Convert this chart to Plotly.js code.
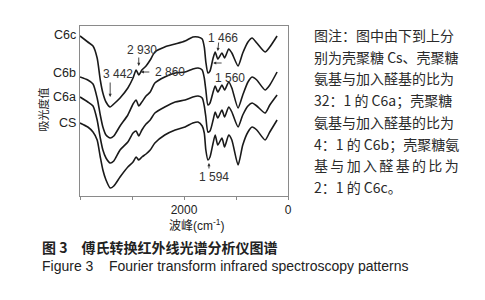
<!DOCTYPE html>
<html>
<head>
<meta charset="utf-8">
<script src="https://cdn.plot.ly/plotly-3.0.1.min.js"></script>
<style>html,body{margin:0;padding:0;background:#fff;}#chart{width:485px;height:300px;}</style>
</head>
<body>
<div id="chart"></div>
<script>
// Wavenumber (cm-1) sample points
const wavenumber = [4000,3850,3750,3670,3610,3560,3500,3420,3350,3230,3080,2980,2920,2870,2810,2730,2650,2560,2370,2170,1980,1830,1730,1650,1610,1580,1540,1500,1440,1400,1350,1270,1220,1140,1080,960,870,770,690,600,440,350,210];
// Relative absorbance (offset spectra, arbitrary units)
const absC6c = [1.60,1.54,1.50,1.38,1.16,1.03,0.94,0.89,0.92,0.98,1.08,1.18,1.26,1.21,1.26,1.30,1.36,1.44,1.49,1.52,1.55,1.59,1.59,1.57,1.49,1.34,1.23,1.25,1.38,1.44,1.37,1.43,1.38,1.47,1.43,1.30,1.43,1.54,1.58,1.53,1.44,1.49,1.60];
const absC6b = [1.19,1.16,1.12,0.98,0.81,0.69,0.61,0.58,0.60,0.70,0.81,0.92,0.96,0.90,0.94,1.00,1.04,1.13,1.19,1.23,1.24,1.27,1.28,1.26,1.18,1.06,0.91,0.93,1.04,1.10,1.04,1.11,1.06,1.14,1.08,0.88,1.01,1.14,1.19,1.16,1.06,1.11,1.24];
const absC6a = [0.99,0.94,0.90,0.76,0.58,0.46,0.38,0.33,0.35,0.46,0.54,0.63,0.65,0.60,0.66,0.72,0.76,0.83,0.89,0.94,0.96,0.99,1.00,0.98,0.90,0.79,0.64,0.65,0.76,0.84,0.78,0.86,0.79,0.89,0.84,0.69,0.81,0.90,0.93,0.90,0.83,0.91,1.01];
const absCS  = [0.73,0.69,0.64,0.56,0.39,0.26,0.16,0.08,0.10,0.19,0.29,0.34,0.39,0.36,0.39,0.42,0.46,0.53,0.61,0.66,0.69,0.73,0.74,0.70,0.63,0.46,0.36,0.39,0.53,0.61,0.51,0.58,0.49,0.61,0.56,0.31,0.51,0.64,0.69,0.66,0.56,0.64,0.76];
const seriesNames = ['C6c','C6b','C6a','CS'];
const tickVals = [4000,3000,2000,1000,0];
const tickText = ['','','2000','','0'];
const peakLabels = ['3 442','2 930','2 860','1 466','1 560','1 594'];
const noteLines = ['图注：图中由下到上分','别为壳聚糖 Cs、壳聚糖','氨基与加入醛基的比为','32：1 的 C6a；壳聚糖','氨基与加入醛基的比为','4：1 的 C6b；壳聚糖氨','基\u2006与\u2006加\u2006入\u2006醛\u2006基\u2006的\u2006比\u2006为','2：1 的 C6c。'];
const captionCN = '图 3　傅氏转换红外线光谱分析仪图谱';
const captionEN = 'Figure 3    Fourier transform infrared spectroscopy patterns';
const yTitle = '吸光度值';
const xTitle = '波峰(cm<sup>-1</sup>)';

const FONT = 'Liberation Sans, Arial, Noto Sans CJK SC, sans-serif';
const CJK = 'Noto Sans CJK SC, Liberation Sans, sans-serif';
const allY = [absC6c, absC6b, absC6a, absCS];
const traces = allY.map((y, i) => ({
  x: wavenumber, y: y, type: 'scatter', mode: 'lines', name: seriesNames[i],
  line: {color: '#1a1a1a', width: 1.6, shape: 'spline', smoothing: 0.6},
  hoverinfo: 'skip'
}));

const ann = [];
// curve labels at left end
const labelShift = [1, 4, 0, 0];
allY.forEach((y, i) => {
  ann.push({xref:'paper', yref:'y', x:-0.01, y:y[0], yshift:labelShift[i], text:seriesNames[i], showarrow:false,
    xanchor:'right', yanchor:'middle', font:{family:FONT, size:12.5, color:'#222'}});
});
// peak labels
const pk = {size:12, family:FONT, color:'#333'};
const arr = {showarrow:true, arrowhead:2, arrowsize:0.7, arrowwidth:0.9, arrowcolor:'#333'};
ann.push(Object.assign({x:3420, y:0.99, text:'', ax:0, ay:-16}, arr));
ann.push({x:3270, y:1.22, text:peakLabels[0], showarrow:false, font:pk});
ann.push(Object.assign({x:2870, y:1.30, text:'', ax:0, ay:-10}, arr));
ann.push({x:2810, y:1.46, text:peakLabels[1], showarrow:false, font:pk});
ann.push(Object.assign({x:2830, y:1.24, text:'', ax:10, ay:0}, arr));
ann.push({x:2600, y:1.24, text:peakLabels[2], showarrow:false, xanchor:'left', font:pk});
ann.push(Object.assign({x:1350, y:1.45, text:'', ax:1, ay:-10}, arr));
ann.push({x:1250, y:1.58, text:peakLabels[3], showarrow:false, font:pk});
ann.push(Object.assign({x:1440, y:1.33, text:'', ax:10, ay:0}, arr));
ann.push({x:1110, y:1.18, text:peakLabels[4], showarrow:false, font:pk});
ann.push(Object.assign({x:1520, y:0.33, text:'', ax:0, ay:7}, arr));
ann.push({x:1420, y:0.19, text:peakLabels[5], showarrow:false, font:pk});
// axis titles
ann.push({xref:'paper', yref:'paper', x:-0.225, y:0.51, text:yTitle, textangle:-90, showarrow:false,
  font:{family:CJK, size:11, color:'#222'}});
ann.push({xref:'paper', yref:'paper', x:0.56, y:-0.17, text:xTitle, showarrow:false, yanchor:'middle',
  font:{family:FONT, size:12, color:'#222'}});
// note text on right
noteLines.forEach((t, i) => {
  ann.push({xref:'paper', yref:'paper', x:(312-80)/208, y:(196-(35+i*21.7))/170, text:t, showarrow:false,
    xanchor:'left', yanchor:'middle', font:{family:CJK, size:14, color:'#2a2a2a'}});
});
// captions
ann.push({xref:'paper', yref:'paper', x:(40-80)/208, y:(196-247)/170, text:'<b>'+captionCN+'</b>', showarrow:false,
  xanchor:'left', yanchor:'middle', font:{family:CJK, size:14, color:'#222'}});
ann.push({xref:'paper', yref:'paper', x:(40-80)/208, y:(196-266)/170, text:captionEN, showarrow:false,
  xanchor:'left', yanchor:'middle', font:{family:FONT, size:14, color:'#222'}});

const layout = {
  width:485, height:300,
  margin:{l:80, r:197, t:26, b:104},
  paper_bgcolor:'#fff', plot_bgcolor:'#fff',
  showlegend:false,
  xaxis:{range:[4000,0], tickvals:tickVals, ticktext:tickText, ticks:'outside', ticklen:3, tickcolor:'#888',
    showline:true, mirror:true, linecolor:'#8a8a8a', linewidth:1, showgrid:false, zeroline:false,
    tickfont:{family:FONT, size:12, color:'#222'}},
  yaxis:{range:[0,1.70], showticklabels:false, ticks:'', showline:true, mirror:true, linecolor:'#8a8a8a',
    linewidth:1, showgrid:false, zeroline:false},
  annotations: ann
};
Plotly.newPlot('chart', traces, layout, {staticPlot:true, displayModeBar:false});
</script>
</body>
</html>
